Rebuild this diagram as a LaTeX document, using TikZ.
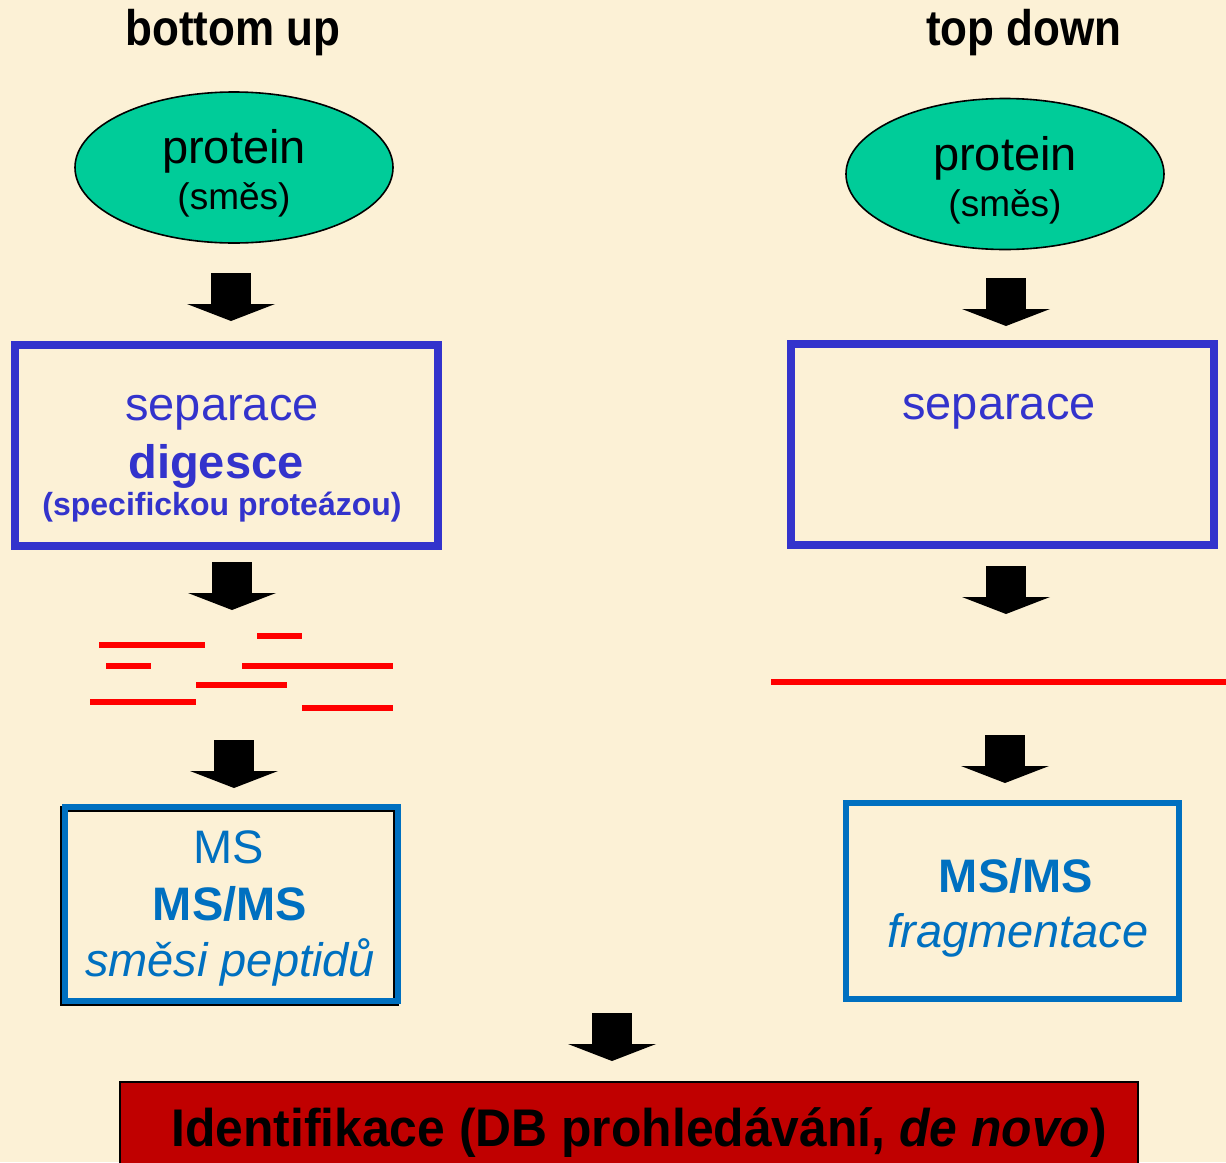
\documentclass[tikz,border=0pt]{standalone}
\usepackage{fontspec}
\setmainfont{Liberation Sans}
\usepackage{xcolor}
\usepackage{graphicx}
\usepackage{tikz}
\usetikzlibrary{shapes.geometric}

\definecolor{parchment}{RGB}{252,241,214}
\definecolor{protgreen}{RGB}{0,204,153}
\definecolor{sepblue}{RGB}{51,51,204}
\definecolor{msblue}{RGB}{0,112,192}
\definecolor{idred}{RGB}{192,0,0}
\newcommand{\pxfont}[1]{\fontsize{#1}{#1}\selectfont}

\begin{document}
\begin{tikzpicture}[x=0.5pt, y=-0.5pt,
  protein/.style={ellipse, draw=black, line width=0.8pt, fill=protgreen,
                  minimum width=159pt, minimum height=75.5pt, inner sep=0pt},
  sepbox/.style={draw=sepblue, line width=4pt, inner sep=0pt,
                 minimum width=211.5pt, minimum height=100.5pt},
  msbox/.style={draw=msblue, line width=3pt, inner sep=0pt, minimum width=166.5pt},
  fragment/.style={red, line width=3pt},
  txt/.style={anchor=base, inner sep=0pt},
  blockarrow/.pic={\fill (-20,0) rectangle (20,33);
                   \fill (-44,31) -- (44,31) -- (0,48) -- cycle;}]
  \useasboundingbox (0,0) rectangle (1226,1162);
  \clip (0,0) rectangle (1226,1162);
  \fill[parchment] (0,0) rectangle (1226,1162);

  % headers
  \node[txt] (hbu) at (233,45) {\pxfont{25}\bfseries\scalebox{0.88}[1]{bottom up}};
  \node[txt] (htd) at (1024,45) {\pxfont{25}\bfseries\scalebox{0.88}[1]{top down}};

  % bottom up
  \node[protein] (prot1) at (234,167.5) {};
  \node[txt] (prot1a) at (234,163) {\pxfont{23.5}protein};
  \node[txt] (prot1b) at (234,209) {\pxfont{18.5}(směs)};
  \pic at (231,273) {blockarrow};
  \node[sepbox] (sep1) at (226.5,445.5) {};
  \node[txt, sepblue] (sep1a) at (222,420) {\pxfont{23.5}separace};
  \node[txt, sepblue] (sep1b) at (216,478) {\pxfont{23.5}\bfseries digesce};
  \node[txt, sepblue] (sep1c) at (222,515) {\pxfont{16}\bfseries (specifickou proteázou)};
  \pic at (232,562) {blockarrow};
  \foreach \xa/\xb/\yy in {257/302/636, 99/205/645, 106/151/666, 242/393/666,
                           196/287/685, 90/196/702, 302/393/708}
    \draw[fragment] (\xa,\yy) -- (\xb,\yy);
  \pic at (234,740) {blockarrow};
  \draw[black, line width=3pt] (63,809) rectangle (396,1003);
  \node[msbox, minimum height=97pt] (ms1) at (231.5,904) {};
  \node[txt, msblue] (ms1a) at (229,863) {\pxfont{23.5}MS};
  \node[txt, msblue] (ms1b) at (230,920) {\pxfont{23.5}\bfseries MS/MS};
  \node[txt, msblue] (ms1c) at (230,976) {\pxfont{23.5}\itshape směsi peptidů};

  % top down
  \node[protein] (prot2) at (1005,174) {};
  \node[txt] (prot2a) at (1005,170) {\pxfont{23.5}protein};
  \node[txt] (prot2b) at (1005,216) {\pxfont{18.5}(směs)};
  \pic at (1006,278) {blockarrow};
  \node[sepbox] (sep2) at (1002.5,444.5) {};
  \node[txt, sepblue] (sep2a) at (999,419) {\pxfont{23.5}separace};
  \pic at (1006,566) {blockarrow};
  \draw[fragment] (771,682) -- (1226,682);
  \pic at (1005,735) {blockarrow};
  \node[msbox, minimum height=98pt] (ms2) at (1012.5,901) {};
  \node[txt, msblue] (ms2a) at (1016,892) {\pxfont{23.5}\bfseries MS/MS};
  \node[txt, msblue] (ms2b) at (1018,947) {\pxfont{23.5}\itshape fragmentace};

  % identification
  \pic at (612,1013) {blockarrow};
  \node[draw=black, line width=1pt, fill=idred, minimum width=509pt,
        minimum height=59pt, inner sep=0pt] (ident) at (629,1141) {};
  \node[txt] (identa) at (639,1146)
    {\pxfont{26.5}\bfseries\scalebox{0.94}[1]{Identifikace (DB prohledávání, {\itshape de novo})}};
\end{tikzpicture}
\end{document}
